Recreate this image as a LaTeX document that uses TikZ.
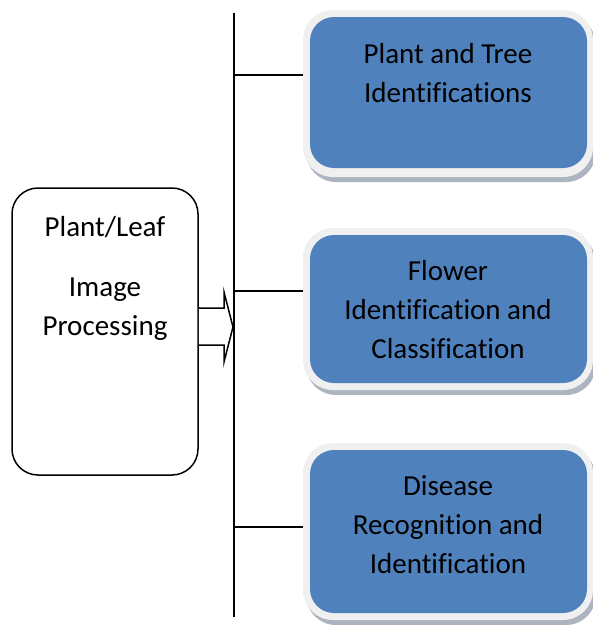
\documentclass[tikz,border=0pt]{standalone}
\usepackage{fontspec}
\setmainfont{Carlito}[Ligatures=NoCommon]
\definecolor{boxblue}{RGB}{79,129,189}
\definecolor{framegray}{RGB}{240,240,240}
\definecolor{shadowgray}{RGB}{172,180,192}
\begin{document}
\begin{tikzpicture}[x=1pt,y=-1pt,
  lbl/.style={align=center,font=\fontsize{29}{39}\selectfont,inner sep=0pt},
  shadowbox/.style={fill=shadowgray,rounded corners=30pt,inner sep=0pt,outer sep=0pt,minimum width=290pt},
  framebox/.style={fill=framegray,rounded corners=30pt,inner sep=0pt,outer sep=0pt,minimum width=290pt},
  bluebox/.style={fill=boxblue,rounded corners=24pt,inner sep=0pt,outer sep=0pt,minimum width=277pt},
  conn/.style={line width=1.6pt},
]
\useasboundingbox (0,0) rectangle (593,625);

% left box
\node[draw,line width=1.5pt,rounded corners=26pt,minimum width=186pt,minimum height=287pt,inner sep=0pt] (src) at (105,331.5) {};
\node[lbl] (t0a) at (105,227) {Plant/Leaf};
\node[lbl] (t0b) at (105,309) {Image\\Processing};

% block arrow
\draw[line width=1.5pt,line join=miter,fill=white] (src.east |- 0,308) coordinate (a1) -- (224,308) -- (224,292) -- (233,327) coordinate (tip) -- (224,362) -- (224,345) -- (src.east |- 0,345);

% vertical bus
\coordinate (btop) at (234,13);
\coordinate (bbot) at (234,617);
\draw[line width=1.8pt] (btop) -- (bbot);

% box 1
\node[shadowbox,minimum height=167pt] (s1) at (451,98.5) {};
\node[framebox,minimum height=167pt] (f1) at (448,93.5) {};
\node[bluebox,minimum height=151pt] (b1) at (448.5,92.5) {};
\node[lbl] (t1) at (448,73) {Plant and Tree\\Identifications};

% box 2
\node[shadowbox,minimum height=162pt] (s2) at (451,314) {};
\node[framebox,minimum height=162pt] (f2) at (448,309) {};
\node[bluebox,minimum height=148pt] (b2) at (448.5,309) {};
\node[lbl] (t2) at (448,310) {Flower\\Identification and\\Classification};

% box 3
\node[shadowbox,minimum height=177pt] (s3) at (451,536.5) {};
\node[framebox,minimum height=177pt] (f3) at (448,531.5) {};
\node[bluebox,minimum height=163pt] (b3) at (448.5,531.5) {};
\node[lbl] (t3) at (448,525) {Disease\\Recognition and\\Identification};

% connectors
\coordinate (c1) at (235,75);
\coordinate (c2) at (235,291);
\coordinate (c3) at (235,527);
\draw[conn] (c1) -- (f1.west |- c1);
\draw[conn] (c2) -- (f2.west |- c2);
\draw[conn] (c3) -- (f3.west |- c3);
\end{tikzpicture}
\end{document}
